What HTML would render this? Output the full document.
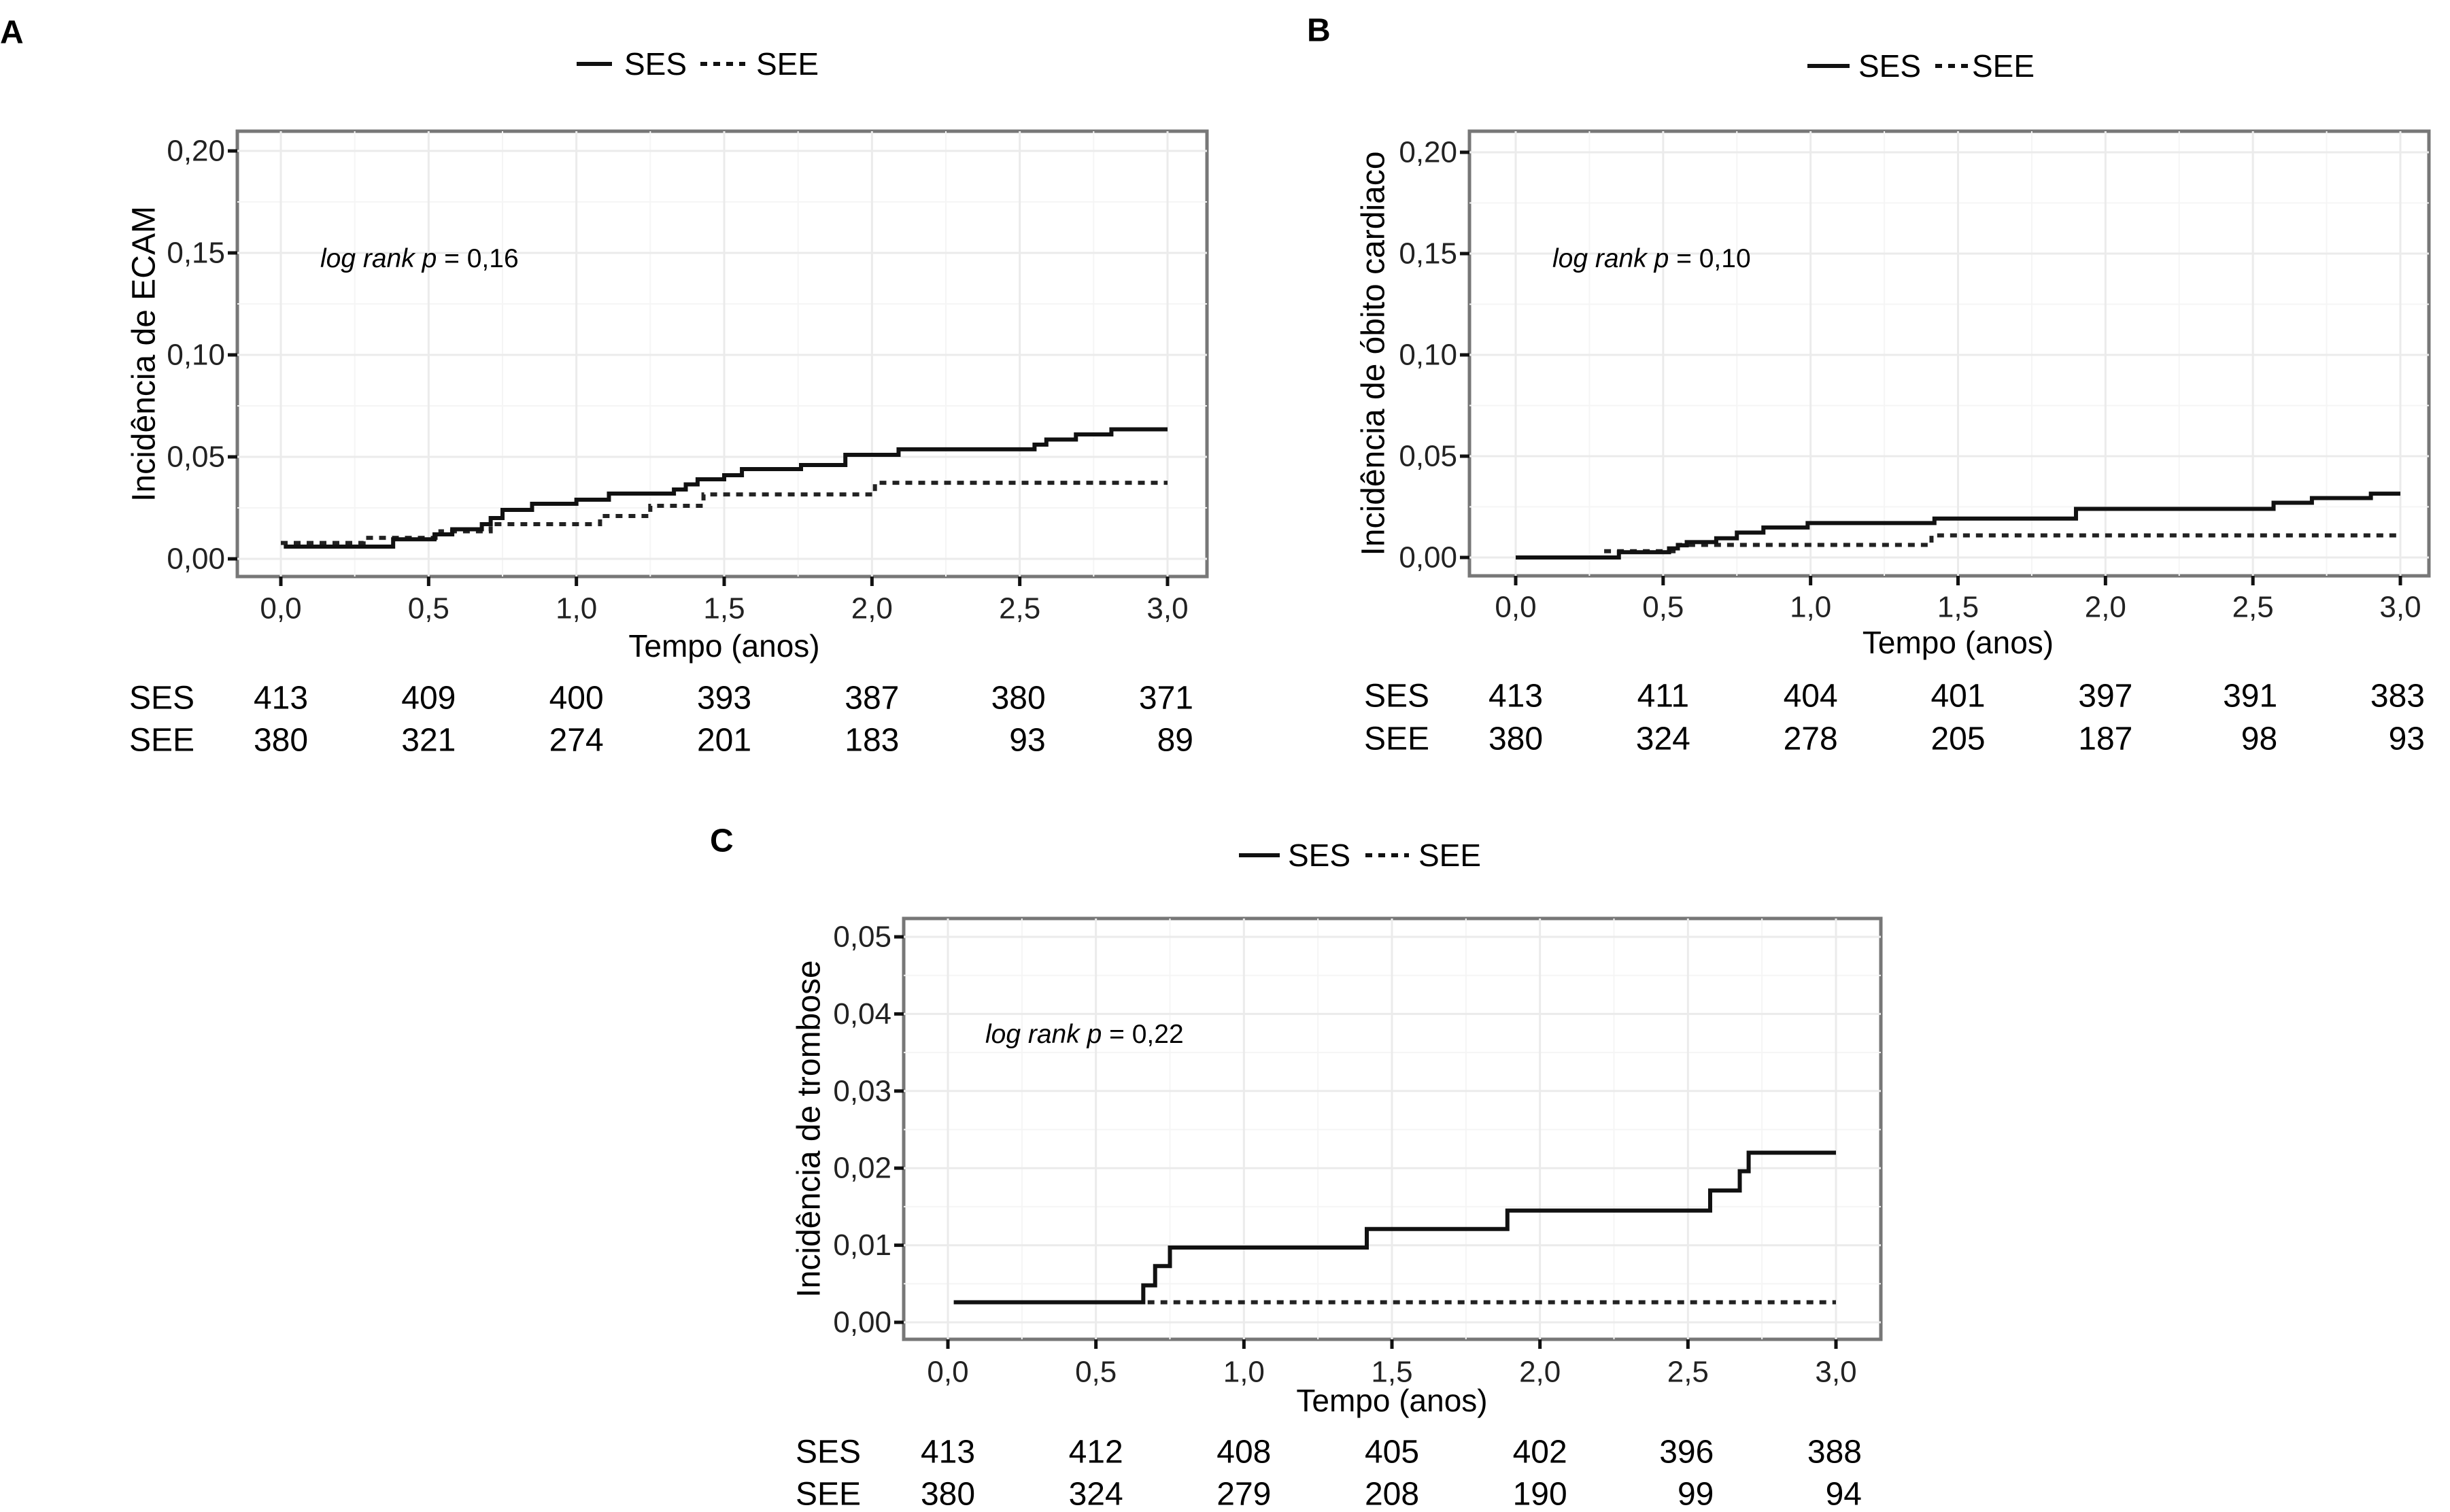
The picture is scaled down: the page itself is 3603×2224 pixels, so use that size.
<!DOCTYPE html>
<html><head><meta charset="utf-8"><style>
html,body{margin:0;padding:0;background:#fff;}
svg{display:block;font-family:"Liberation Sans",Arial,sans-serif;}
</style></head><body>
<svg id="fig" width="3603" height="2224" viewBox="0 0 3603 2224" xmlns="http://www.w3.org/2000/svg"></svg>
<script>
// ---- data ----
const xTicks = [0, 0.5, 1, 1.5, 2, 2.5, 3];
const xTickLabels = ["0,0","0,5","1,0","1,5","2,0","2,5","3,0"];
const yTicksAB = [0, 0.05, 0.10, 0.15, 0.20];
const yTickLabelsAB = ["0,00","0,05","0,10","0,15","0,20"];
const yTicksC = [0, 0.01, 0.02, 0.03, 0.04, 0.05];
const yTickLabelsC = ["0,00","0,01","0,02","0,03","0,04","0,05"];

const aSesT = [0.01,0.38,0.52,0.58,0.68,0.71,0.75,0.85,1.0,1.11,1.33,1.37,1.41,1.5,1.56,1.76,1.91,2.09,2.55,2.59,2.69,2.81,3.0];
const aSesY = [0.006,0.0096,0.012,0.0145,0.017,0.020,0.024,0.027,0.029,0.032,0.034,0.0365,0.039,0.041,0.044,0.046,0.051,0.0537,0.056,0.0585,0.061,0.0635,0.0635];
const aSeeT = [0.0,0.28,0.54,0.71,1.08,1.25,1.43,2.01,3.0];
const aSeeY = [0.0078,0.0103,0.0135,0.017,0.021,0.026,0.0316,0.0373,0.0373];
const aRiskSes = ["413","409","400","393","387","380","371"];
const aRiskSee = ["380","321","274","201","183","93","89"];

const bSesT = [0.0,0.35,0.52,0.55,0.58,0.68,0.75,0.84,0.99,1.42,1.9,2.57,2.7,2.9,3.0];
const bSesY = [0.0,0.0026,0.0045,0.006,0.0076,0.0095,0.0123,0.0148,0.017,0.0192,0.024,0.027,0.0293,0.0315,0.0315];
const bSeeT = [0.3,0.55,1.41,3.0];
const bSeeY = [0.0031,0.0062,0.0109,0.0109];
const bRiskSes = ["413","411","404","401","397","391","383"];
const bRiskSee = ["380","324","278","205","187","98","93"];

const cSesT = [0.02,0.66,0.70,0.75,1.415,1.89,2.575,2.675,2.705,3.0];
const cSesY = [0.0026,0.0048,0.0073,0.0097,0.0121,0.0145,0.0171,0.0196,0.022,0.022];
const cSeeT = [0.02,3.0];
const cSeeY = [0.0026,0.0026];
const cRiskSes = ["413","412","408","405","402","396","388"];
const cRiskSee = ["380","324","279","208","190","99","94"];

const NS = "http://www.w3.org/2000/svg";
const svg = document.getElementById("fig");
function mk(tag, attrs, parent, text){
  const e = document.createElementNS(NS, tag);
  for (const k in attrs) e.setAttribute(k, attrs[k]);
  if (text !== undefined) e.textContent = text;
  (parent || svg).appendChild(e);
  return e;
}

function panel(p){
  const g = mk("g", {});
  
  
  const sx = v => p.x0 + (v - 0) / 3 * (p.x3 - p.x0);
  const sy = v => p.y0 - v / p.ymax * (p.y0 - p.yTop);
  const L = mk("text", {x:p.letterX, y:p.letterY, "font-size":48, "font-weight":"bold", "dominant-baseline":"central"}, g, p.letter);
  
  
  const lg = mk("g", {}, g);
  
  
  mk("line", {x1:p.leg[0], x2:p.leg[1], y1:p.legY, y2:p.legY, stroke:"#111", "stroke-width":6}, lg);
  const t1 = mk("text", {x:p.leg[2], y:p.legY, "font-size":46, "dominant-baseline":"central"}, lg, "SES");
  
  
  mk("line", {x1:p.leg[3], x2:p.leg[4], y1:p.legY, y2:p.legY, stroke:"#111", "stroke-width":6, "stroke-dasharray":"10 9"}, lg);
  const t2 = mk("text", {x:p.leg[5], y:p.legY, "font-size":46, "dominant-baseline":"central"}, lg, "SEE");
  
  
  const bx = mk("rect", {x:p.bl, y:p.bt, width:p.br-p.bl, height:p.bb-p.bt, fill:"#fff", stroke:"#777", "stroke-width":5}, g);
  
  
  for (let i=0;i<xTicks.length-1;i++){
    const xm = sx((xTicks[i]+xTicks[i+1])/2);
    mk("line",{x1:xm,x2:xm,y1:p.bt,y2:p.bb,stroke:"#f5f5f5","stroke-width":2},g);
  }
  for (let i=0;i<p.yT.length-1;i++){
    const ym = sy((p.yT[i]+p.yT[i+1])/2);
    mk("line",{x1:p.bl,x2:p.br,y1:ym,y2:ym,stroke:"#f5f5f5","stroke-width":2},g);
  }
  xTicks.forEach((v,i)=>{
    const x = sx(v);
    mk("line",{x1:x,x2:x,y1:p.bt,y2:p.bb,stroke:"#ebebeb","stroke-width":3},g);
    mk("line",{x1:x,x2:x,y1:p.bb,y2:p.bb+14,stroke:"#111","stroke-width":5},g);
    const t = mk("text",{x:x,y:p.xLabY,"font-size":44,"text-anchor":"middle","dominant-baseline":"central",fill:"#222"},g,xTickLabels[i]);
    
    
  });
  p.yT.forEach((v,i)=>{
    const y = sy(v);
    mk("line",{x1:p.bl,x2:p.br,y1:y,y2:y,stroke:"#ebebeb","stroke-width":3},g);
    mk("line",{x1:p.bl-14,x2:p.bl,y1:y,y2:y,stroke:"#111","stroke-width":5},g);
    const t = mk("text",{x:p.bl-18,y:y,"font-size":44,"text-anchor":"end","dominant-baseline":"central",fill:"#222"},g,p.yL[i]);
    
    
  });
  const xt = mk("text",{x:(p.x0+p.x3)/2,y:p.xTitleY,"font-size":46,"text-anchor":"middle","dominant-baseline":"central"},g,"Tempo (anos)");
  
  
  const yt = mk("text",{x:0,y:0,"font-size":48,"text-anchor":"middle","dominant-baseline":"central",transform:`translate(${p.yTitleX},${(p.bt+p.bb)/2}) rotate(-90)`},g,p.yTitle);
  
  
  const lr = mk("text",{x:p.lrX,y:p.lrY,"font-size":39,"dominant-baseline":"central"},g);
  
  
  mk("tspan",{"font-style":"italic"},lr,"log rank p");
  mk("tspan",{},lr," = " + p.pval);
  function stepPath(T, Y){
    let d = "M" + sx(T[0]) + "," + sy(Y[0]);
    for (let i=1;i<T.length;i++){
      d += " H" + sx(T[i]) + " V" + sy(Y[i]);
    }
    return d;
  }
  const see = mk("path",{d:stepPath(p.seeT,p.seeY),fill:"none",stroke:"#222","stroke-width":6,"stroke-dasharray":"10 9"},g);
  
  
  const ses = mk("path",{d:stepPath(p.sesT,p.sesY),fill:"none",stroke:"#111","stroke-width":6}, g);
  
  
  const rt = mk("g",{},g);
  
  
  [["SES",p.riskSes,p.rY1],["SEE",p.riskSee,p.rY2]].forEach(r=>{
    const lab = mk("text",{x:p.rLabX,y:r[2],"font-size":48,"dominant-baseline":"central"},rt,r[0]);
    
    
    r[1].forEach((v,i)=>{
      const last = i>=5;
      const x = last ? (i===6 ? p.rLastX : sx(xTicks[i]) + (p.rLastX - sx(xTicks[6]))) : sx(xTicks[i]);
      const t = mk("text",{x:x,y:r[2],"font-size":48,"text-anchor":last?"end":"middle","dominant-baseline":"central"},rt,v);
      
      
    });
  });
}

panel({id:"a",letter:"A",letterX:0,letterY:48,legY:94,leg:[848,900,918,1030,1096,1112],
  bl:349,br:1775,bt:193,bb:848,x0:413,x3:1717,y0:822,yTop:222,ymax:0.20,yT:yTicksAB,yL:yTickLabelsAB,
  xLabY:895,xTitleY:950,yTitleX:212,yTitle:"Incidência de ECAM",lrX:471,lrY:380,pval:"0,16",
  sesT:aSesT,sesY:aSesY,seeT:aSeeT,seeY:aSeeY,riskSes:aRiskSes,riskSee:aRiskSee,rY1:1027,rY2:1089,rLabX:190,rLastX:1755});
panel({id:"b",letter:"B",letterX:1922,letterY:45,legY:97,leg:[2658,2720,2733,2846,2896,2900],
  bl:2161,br:3572,bt:193,bb:847,x0:2229,x3:3530,y0:820,yTop:224,ymax:0.20,yT:yTicksAB,yL:yTickLabelsAB,
  xLabY:893,xTitleY:945,yTitleX:2020,yTitle:"Incidência de óbito cardiaco",lrX:2283,lrY:380,pval:"0,10",
  sesT:bSesT,sesY:bSesY,seeT:bSeeT,seeY:bSeeY,riskSes:bRiskSes,riskSee:bRiskSee,rY1:1024,rY2:1087,rLabX:2006,rLastX:3566});
panel({id:"c",letter:"C",letterX:1044,letterY:1237,legY:1258,leg:[1822,1882,1894,2008,2072,2086],
  bl:1329,br:2766,bt:1351,bb:1970,x0:1394,x3:2700,y0:1945,yTop:1378,ymax:0.05,yT:yTicksC,yL:yTickLabelsC,
  xLabY:2018,xTitleY:2060,yTitleX:1190,yTitle:"Incidência de trombose",lrX:1449,lrY:1521,pval:"0,22",
  sesT:cSesT,sesY:cSesY,seeT:cSeeT,seeY:cSeeY,riskSes:cRiskSes,riskSee:cRiskSee,rY1:2136,rY2:2198,rLabX:1170,rLastX:2738});
</script>
</body></html>
